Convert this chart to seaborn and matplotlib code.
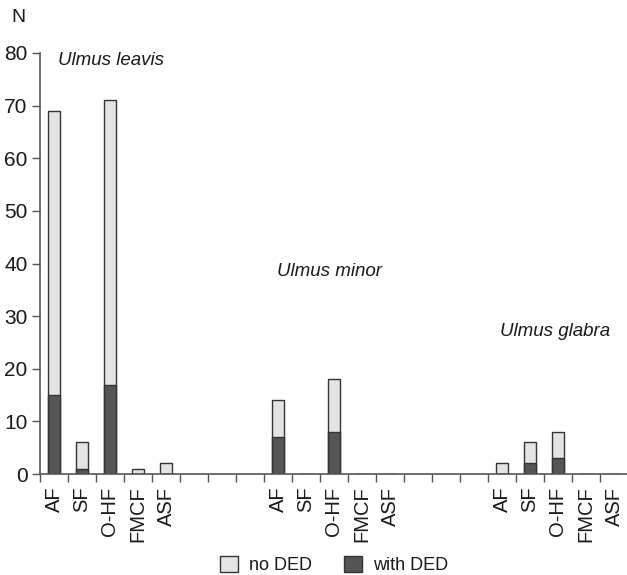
import numpy as np
import pandas as pd
import matplotlib
matplotlib.use("Agg")
import matplotlib.pyplot as plt
import seaborn as sns
from matplotlib.patches import Patch
from matplotlib.ticker import FixedLocator

sns.set_style("white")
plt.rcParams['font.family'] = ['Liberation Sans', 'DejaVu Sans']
plt.rcParams['text.color'] = '#1a1a1a'
plt.rcParams['xtick.color'] = '#1a1a1a'
plt.rcParams['ytick.color'] = '#1a1a1a'

categories = ["AF", "SF", "O-HF", "FMCF", "ASF"]
species = ["Ulmus leavis", "Ulmus minor", "Ulmus glabra"]
total_leavis = [69, 6, 71, 1, 2]
ded_leavis = [15, 1, 17, 0, 0]
total_minor = [14, 0, 18, 0, 0]
ded_minor = [7, 0, 8, 0, 0]
total_glabra = [2, 6, 8, 0, 0]
ded_glabra = [0, 2, 3, 0, 0]

group_start = [0, 8, 16]
totals = [total_leavis, total_minor, total_glabra]
deds = [ded_leavis, ded_minor, ded_glabra]

rows = []
for g, sp in enumerate(species):
    for i, c in enumerate(categories):
        rows.append(dict(pos=group_start[g] + i, cat=c, species=sp,
                         total=totals[g][i], ded=deds[g][i]))
df = pd.DataFrame(rows)

light = "#e4e4e4"
dark = "#555555"
edge = "#333333"

fig = plt.figure(figsize=(6.27, 5.75), dpi=100)
ax = fig.add_axes([40/627, 1-474/575, 588/627, (474-53)/575])

sns.barplot(data=df, x="pos", y="total", native_scale=True, width=0.43,
            color=light, edgecolor=edge, linewidth=1.0, saturation=1, ax=ax)
sns.barplot(data=df, x="pos", y="ded", native_scale=True, width=0.43,
            color=dark, edgecolor=edge, linewidth=1.0, saturation=1, ax=ax)

ax.set_xlim(-0.5, 20.5)
ax.set_ylim(0, 80)
ax.set_xticks(df["pos"].tolist())
ax.set_xticklabels(df["cat"].tolist(), rotation=90, fontsize=14.5)
ax.xaxis.set_minor_locator(FixedLocator(np.arange(-0.5, 21, 1.0)))
ax.tick_params(axis="x", which="major", length=0, pad=9)
ax.tick_params(axis="x", which="minor", length=6, width=1, color="#555555", bottom=True)
ax.set_yticks(range(0, 81, 10))
ax.tick_params(axis="y", which="major", length=6, width=1, color="#555555", labelsize=15, left=True, pad=3)
ax.set_xlabel("")
ax.set_ylabel("")
for s in ["top", "right"]:
    ax.spines[s].set_visible(False)
for s in ["left", "bottom"]:
    ax.spines[s].set_color("#555555")
    ax.spines[s].set_linewidth(1.2)

ax.text(0.14, 78.5, species[0], style="italic", fontsize=13.5, va="center", ha="left")
ax.text(7.96, 38.4, species[1], style="italic", fontsize=13.5, va="center", ha="left")
ax.text(15.93, 27.0, species[2], style="italic", fontsize=13.5, va="center", ha="left")

fig.text(18/627, 1-18/575, "N", fontsize=14, va="center", ha="center")

handles = [Patch(facecolor=light, edgecolor=edge, label="no DED"),
           Patch(facecolor=dark, edgecolor=edge, label="with DED")]
fig.legend(handles=handles, loc="center", bbox_to_anchor=(334/627, 1-565/575),
           ncol=2, frameon=False, fontsize=13, handlelength=1.0, handleheight=1.0,
           columnspacing=1.8, handletextpad=0.6)

fig.savefig("out.png", dpi=100)
